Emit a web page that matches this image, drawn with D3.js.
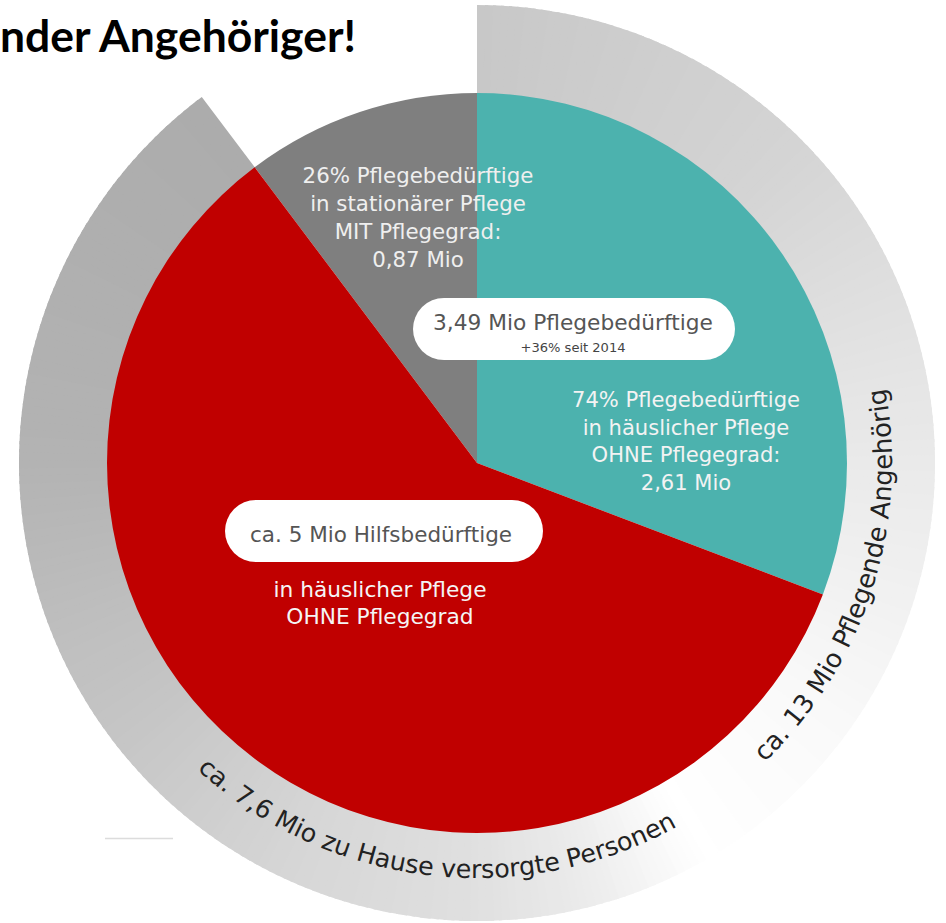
<!DOCTYPE html>
<html><head><meta charset="utf-8">
<script src="https://cdn.jsdelivr.net/npm/d3@7"></script>
<style>body{margin:0;background:#fff}svg{display:block}</style>
</head><body>
<svg id="chart" width="946" height="923"></svg>
<script>
// ---------------- data ----------------
const titleText = "nder Angehöriger!";
const sliceKeys = ["stationär MIT Pflegegrad", "häuslich OHNE Pflegegrad", "Hilfsbedürftige ohne Pflegegrad"];
const sliceValues = [0.87, 2.61, 5.0];           // Mio
const greyLines = ["26% Pflegebedürftige", "in stationärer Pflege", "MIT Pflegegrad:", "0,87 Mio"];
const tealLines = ["74% Pflegebedürftige", "in häuslicher Pflege", "OHNE Pflegegrad:", "2,61 Mio"];
const redLines = ["in häuslicher Pflege", "OHNE Pflegegrad"];
const pillTitles = ["3,49 Mio Pflegebedürftige", "ca. 5 Mio Hilfsbedürftige"];
const pillSubtitles = ["+36% seit 2014", ""];
const ringLabels = ["ca. 7,6 Mio zu Hause versorgte Personen", "ca. 13 Mio Pflegende Angehörig"];
const ringValues = [7.6, 13];                    // Mio

// ---------------- layout / style ----------------
const cx = 477, cy = 463, rIn = 370, rOut = 458, rText = 415;
const deg = Math.PI / 180;
const sliceColors = ["#7f7f7f", "#4cb2ae", "#c00000"];
const fontMain = "'DejaVu Sans', sans-serif";

const svg = d3.select("#chart");
const g = svg.append("g").attr("transform", `translate(${cx},${cy})`);

const total = d3.sum(sliceValues);
const start = -2 * Math.PI * sliceValues[0] / total;
const pie = d3.pie().sort(null).startAngle(start).endAngle(start + 2 * Math.PI);
const arcs = pie(sliceValues);

// ---- outer rings with angular gradient ----
const fadeAngle = 150 * deg;
const rings = [
  { label: ringLabels[0], value: ringValues[0], a0: fadeAngle, a1: arcs[0].startAngle + 2 * Math.PI,
    color: d3.scaleLinear().domain([150, 165, 180, 205, 230, 270, 323.2].map(d => d * deg))
      .range(["#ffffff", "#ececec", "#e0e0e0", "#d6d6d6", "#c7c7c7", "#b3b3b3", "#acacac"]).clamp(true),
    textAngle: 186.8 * deg, span: 71.3 * deg },
  { label: ringLabels[1], value: ringValues[1], a0: arcs[1].startAngle, a1: fadeAngle,
    color: d3.scaleLinear().domain([0, 45, 75, 90, 110, 125, 150].map(d => d * deg))
      .range(["#c8c8c8", "#d4d4d4", "#e3e3e3", "#eaeaea", "#f2f2f2", "#f9f9f9", "#ffffff"]).clamp(true),
    textAngle: 107.9 * deg, span: 56.6 * deg }
];
const ringArc = d3.arc().innerRadius(rIn - 2).outerRadius(rOut);
rings.forEach((ring, i) => {
  const n = Math.ceil((ring.a1 - ring.a0) / deg);
  const step = (ring.a1 - ring.a0) / n;
  const segs = d3.range(n).map(k => ({ s: ring.a0 + k * step, e: ring.a0 + (k + 1) * step }));
  g.append("g").attr("class", "ring ring-" + i)
    .selectAll("path").data(segs).join("path")
    .attr("d", d => ringArc({ startAngle: d.s, endAngle: Math.min(ring.a1, d.e + 0.4 * deg) }))
    .attr("fill", d => ring.color((d.s + d.e) / 2));
});

// ---- pie ----
const pieArc = d3.arc().innerRadius(0).outerRadius(rIn);
g.append("g").attr("class", "pie").selectAll("path").data(arcs).join("path")
  .attr("d", pieArc).attr("fill", (d, i) => sliceColors[i]);

// ---- helpers ----
function fit(sel, target) {
  const len = sel.node().getComputedTextLength();
  const fs = parseFloat(sel.attr("font-size"));
  sel.attr("font-size", (fs * target / len).toFixed(2));
  return fs * target / len;
}
function block(lines, x, y0, dy, fill, targetFirst) {
  const t = svg.append("g");
  const texts = lines.map((s, i) => t.append("text").attr("x", x).attr("y", y0 + i * dy)
    .attr("text-anchor", "middle").attr("font-family", fontMain).attr("font-size", 20)
    .attr("fill", fill).text(s));
  const fs = fit(texts[0], targetFirst);
  texts.forEach(tx => tx.attr("font-size", fs.toFixed(2)));
}

// ---- slice labels ----
block(greyLines, 418, 183, 28, "#efefef", 231);
block(tealLines, 686, 407, 27.6, "#f3f3f3", 228);
block(redLines, 380, 597, 26.5, "#f5f5f5", 213);

// ---- pills ----
const pills = [
  { x0: 413, x1: 735, y0: 298, y1: 360, ty: 330, sy: 352, tw: 280, sw: 105, tx: 573 },
  { x0: 225, x1: 543, y0: 500, y1: 562, ty: 542, sy: 0, tw: 262, sw: 0, tx: 381 }
];
pills.forEach((p, i) => {
  svg.append("rect").attr("x", p.x0).attr("y", p.y0).attr("width", p.x1 - p.x0).attr("height", p.y1 - p.y0)
    .attr("rx", (p.y1 - p.y0) / 2).attr("fill", "#ffffff");
  const t = svg.append("text").attr("x", p.tx).attr("y", p.ty).attr("text-anchor", "middle")
    .attr("font-family", fontMain).attr("font-size", 20).attr("fill", "#555555").text(pillTitles[i]);
  fit(t, p.tw);
  if (pillSubtitles[i]) {
    const s = svg.append("text").attr("x", p.tx).attr("y", p.sy).attr("text-anchor", "middle")
      .attr("font-family", fontMain).attr("font-size", 12).attr("fill", "#444444").text(pillSubtitles[i]);
    fit(s, p.sw);
  }
});

// ---- curved ring labels (one text per word so their boxes stay tight) ----
const defs = svg.append("defs");
const pt = a => [cx + rText * Math.sin(a), cy - rText * Math.cos(a)];
const halfSpan = 88 * deg;
rings.forEach((ring, i) => {
  const p0 = pt(ring.textAngle + halfSpan), p1 = pt(ring.textAngle - halfSpan);
  defs.append("path").attr("id", "ringPath" + i)
    .attr("d", `M${p0[0]},${p0[1]} A${rText},${rText} 0 0 0 ${p1[0]},${p1[1]}`);
  const pathLen = rText * 2 * halfSpan;
  // measuring text
  const m = svg.append("text").attr("font-family", fontMain).attr("font-size", 20).text(ring.label);
  const fs = fit(m, rText * ring.span);
  const fullLen = m.node().getComputedTextLength();
  const startOff = pathLen / 2 - fullLen / 2;
  const words = ring.label.split(" ");
  let idx = 0;
  const layer = svg.append("g").attr("class", "ring-label-" + i);
  words.forEach(w => {
    const off = idx === 0 ? 0 : m.node().getSubStringLength(0, idx);
    layer.append("text").attr("font-family", fontMain).attr("font-size", fs.toFixed(2)).attr("fill", "#222222")
      .append("textPath").attr("href", "#ringPath" + i).attr("startOffset", (startOff + off).toFixed(2))
      .text(w);
    idx += w.length + 1;
  });
  m.remove();
});

// ---- title ----
const title = svg.append("text").attr("x", 0).attr("y", 52)
  .attr("font-family", "Lato, 'Open Sans', sans-serif").attr("font-weight", 700)
  .attr("font-size", 38).attr("fill", "#000").text(titleText);
fit(title, 356);

// ---- faint rule bottom-left ----
svg.append("line").attr("x1", 105).attr("x2", 173).attr("y1", 838.5).attr("y2", 838.5)
  .attr("stroke", "#dcdcdc").attr("stroke-width", 1.5);
</script>
</body></html>
